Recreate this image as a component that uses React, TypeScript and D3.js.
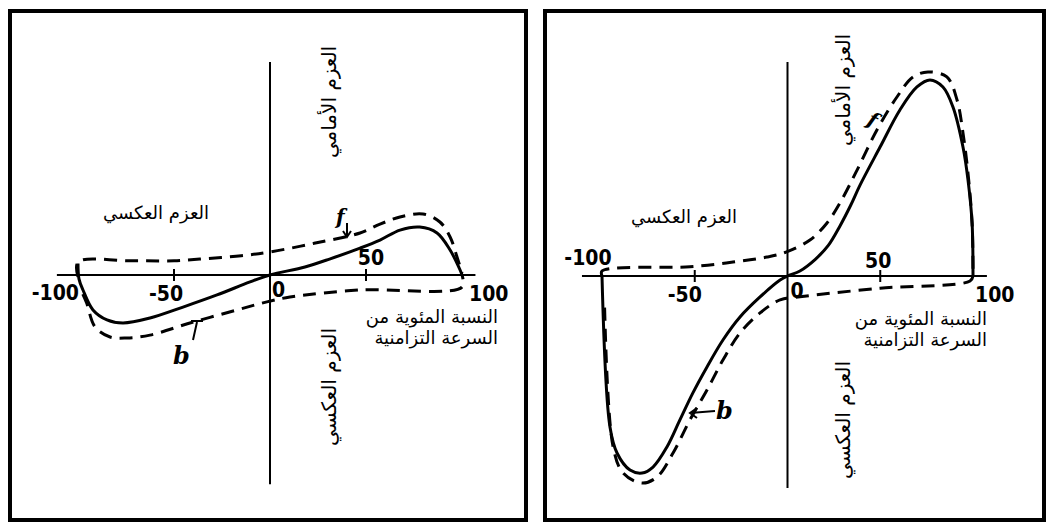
import React from "react";
import * as d3 from "d3";

type Pt = [number, number];

// tick values on the speed axis (% of synchronous speed)
const tickValues = [-100, -50, 0, 50, 100];
const tickLabels = ["-100", "-50", "0", "50", "100"];

// left figure: solid curve and dashed f / b curves (speed %, torque)
const leftSolid: Pt[] = [
  [-100, 6], [-99.5, -2], [-97.4, -7.8], [-92.2, -18.2], [-84.9, -23.4],
  [-76.6, -25], [-62.5, -22.4], [-45.3, -16.7], [-27.6, -10.4], [-10.4, -3.6],
  [0, 0], [18.2, 4.2], [31, 8.3], [46.9, 14], [57.3, 18.2], [67.7, 23.4],
  [78, 25], [87, 21.9], [93.8, 13], [99, 2.6], [100, 0],
];
const leftDashF: Pt[] = [
  [-100, -1], [-100, 6.8], [-73, 7.4], [-50, 7.4], [-36.5, 8.3], [-15, 10],
  [0, 12], [23, 16.5], [46.9, 21.9], [57.3, 26.5], [67.7, 30.2], [79.7, 31.8],
  [88.5, 27.6], [93.8, 19.8], [97.4, 9.4], [100, 1],
];
const leftDashB: Pt[] = [
  [-97.5, -10], [-95.5, -14.6], [-91.1, -27.1], [-83.3, -32.3], [-74.5, -32.8],
  [-62.5, -31.3], [-41.7, -25], [-17.2, -18.2], [-1.6, -14], [10.4, -11.5],
  [46.9, -7.8], [100, -6.3], [100, 0],
];

// right figure
const rightSolid: Pt[] = [
  [-100, 0], [-95.7, -81.4], [-91.9, -95.4], [-84.9, -104.6], [-78.4, -106.2],
  [-72.5, -103], [-65, -92.2], [-58, -77.6], [-51, -63], [-43.4, -49],
  [-34.8, -34.5], [-25.6, -22.1], [-14.8, -11.3], [-4, -2.2], [0, 0],
  [6.7, 2.7], [15, 9], [22, 16.5], [28.3, 27], [34, 38], [39.1, 49],
  [49.9, 69.5], [60.6, 89.5], [69.8, 101.9], [76.8, 105.7], [83.8, 101.9],
  [89.2, 91.1], [94.6, 69.5], [97.3, 51.8], [99.5, 28.6], [100, 0],
];
const rightDashF: Pt[] = [
  [-100, 0], [-100, 2.7], [-52.6, 5], [-29.4, 7.5], [-11.1, 10.2], [-0.8, 12.9],
  [12.1, 19.4], [21.3, 28.6], [28.3, 39.4], [37.5, 57.1], [48.2, 78.7],
  [59, 96.5], [67.7, 107.3], [75.7, 110], [85.9, 107.3], [91.4, 94.9],
  [94.6, 77.1], [97.3, 55.5], [99.5, 28.6], [100, 3],
];
const rightDashB: Pt[] = [
  [100, 0], [98.4, -2.7], [49.9, -6.6], [6.7, -11.2], [-4, -12.9],
  [-14.8, -19.9], [-25.6, -30.7], [-34.8, -45.3], [-43.4, -61.5],
  [-52.6, -77.6], [-61.7, -95.4], [-70.4, -108.4], [-78.4, -111.6],
  [-88.6, -106.2], [-94, -92.2], [-98.7, -12.9],
];

// texts
const reverseTorque = "العزم العكسي";
const forwardTorque = "العزم الأمامي";
const speedTitle = ["النسبة المئوية من", "السرعة التزامنية"];

const numFont = "'Liberation Sans Narrow', 'DejaVu Sans Condensed', sans-serif";
const arFont = "'DejaVu Sans', sans-serif";

function Panel({ box, xRange, y0, ky, solid, dashF, dashB, cfg }: any) {
  const x = d3.scaleLinear().domain([-100, 100]).range(xRange);
  const y = d3.scaleLinear().domain([0, 100]).range([y0, y0 - 100 * ky]);
  const line = d3
    .line<Pt>()
    .x((d) => x(d[0]))
    .y((d) => y(d[1]))
    .curve(d3.curveCatmullRom.alpha(0.5));
  const x0 = x(0);

  return (
    <g>
      <rect x={box[0]} y={box[1]} width={box[2]} height={box[3]} fill="#fff" stroke="#000" strokeWidth={4} />
      {/* axes */}
      <line x1={x(cfg.axisX[0])} x2={x(cfg.axisX[1])} y1={y(0)} y2={y(0)} stroke="#000" strokeWidth={2} />
      <line x1={x0} x2={x0} y1={y(cfg.axisY[1])} y2={y(cfg.axisY[0])} stroke="#000" strokeWidth={2} />
      {[-50, 50].map((t) => (
        <line key={t} x1={x(t)} x2={x(t)} y1={y(0) - 6} y2={y(0) + 6} stroke="#000" strokeWidth={2} />
      ))}
      {tickValues.map((t, i) => {
        const p = cfg.labels[i];
        return (
          <text key={t} x={x(t) + p[0]} y={y(0) + p[1]} textAnchor={p[2]}
            fontFamily={numFont} fontWeight="bold" fontSize={21} fill="#000">
            {tickLabels[i]}
          </text>
        );
      })}
      {/* curves */}
      <path d={line(dashF) || ""} fill="none" stroke="#000" strokeWidth={3} strokeDasharray="13 8" />
      <path d={line(dashB) || ""} fill="none" stroke="#000" strokeWidth={3} strokeDasharray="13 8" />
      <path d={line(solid) || ""} fill="none" stroke="#000" strokeWidth={3} />
      {/* arabic labels */}
      <text x={cfg.rev[0]} y={cfg.rev[1]} textAnchor="middle" fontFamily={arFont} fontSize={18} direction="rtl">
        {reverseTorque}
      </text>
      <text transform={`translate(${cfg.vx},${cfg.vTop}) rotate(-90)`} textAnchor="middle" fontFamily={arFont} fontSize={20} direction="rtl">
        {forwardTorque}
      </text>
      <text transform={`translate(${cfg.vx},${cfg.vBot}) rotate(-90)`} textAnchor="middle" fontFamily={arFont} fontSize={20} direction="rtl">
        {reverseTorque}
      </text>
      {speedTitle.map((s, i) => (
        <text key={i} x={cfg.speed[0]} y={cfg.speed[1] + i * 21} textAnchor="end" fontFamily={arFont} fontSize={18}>
          {s}
        </text>
      ))}
      {cfg.marks}
    </g>
  );
}

export default function App() {
  const leftCfg = {
    axisX: [-111, 107],
    axisY: [-109, 111],
    labels: [[1, 25, "end"], [-8, 26, "middle"], [2, 22, "start"], [5, -10, "middle"], [7, 26, "start"]],
    rev: [156, 219],
    vx: 336,
    vTop: 102,
    vBot: 387,
    speed: [498, 323],
    marks: (
      <g fill="none" stroke="#000" strokeWidth={2}>
        <text x={336} y={224} fontFamily="DejaVu Serif" fontStyle="italic" fontWeight="bold" fontSize={20} fill="#000" stroke="none">f</text>
        <path d="M347,223 L347,236 M343,231 L347,237 L351,231" />
        <text x={173} y={364} fontFamily="DejaVu Serif" fontStyle="italic" fontWeight="bold" fontSize={24} fill="#000" stroke="none">b</text>
        <path d="M193,340 L197,322 M191,321 L203,321" />
      </g>
    ),
  };
  const rightCfg = {
    axisX: [-110.8, 107.5],
    axisY: [-114.3, 115.4],
    labels: [[-14, -11, "middle"], [-10, 26, "middle"], [3, 22, "start"], [-2, -8, "middle"], [2, 26, "start"]],
    rev: [684, 223],
    vx: 850,
    vTop: 90,
    vBot: 420,
    speed: [987, 325],
    marks: (
      <g fill="none" stroke="#000" strokeWidth={2}>
        <text transform="translate(866,124) rotate(25)" fontFamily="DejaVu Serif" fontStyle="italic" fontWeight="bold" fontSize={20} fill="#000" stroke="none">f</text>
        <text x={716} y={419} fontFamily="DejaVu Serif" fontStyle="italic" fontWeight="bold" fontSize={24} fill="#000" stroke="none">b</text>
        <path d="M715,411 L690,413 M697,408 L690,413 L697,418" />
      </g>
    ),
  };

  return (
    <svg width={1049} height={524} style={{ position: "absolute", left: 0, top: 0, background: "#fff" }}>
      <Panel box={[10, 11, 516, 509]} xRange={[78, 462]} y0={275} ky={1.92}
        solid={leftSolid} dashF={leftDashF} dashB={leftDashB} cfg={leftCfg} />
      <Panel box={[545, 11, 499, 509]} xRange={[602, 973]} y0={276} ky={1.855}
        solid={rightSolid} dashF={rightDashF} dashB={rightDashB} cfg={rightCfg} />
    </svg>
  );
}
